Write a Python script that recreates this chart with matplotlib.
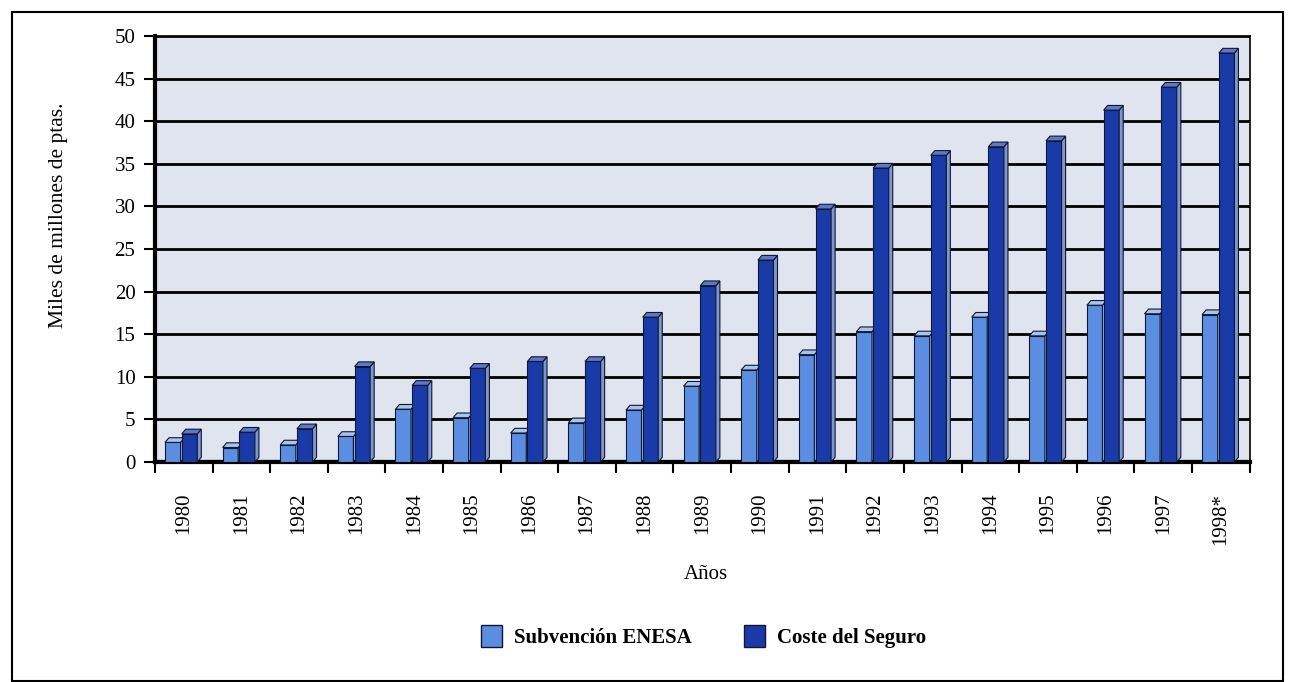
import numpy as np
import matplotlib.pyplot as plt
from matplotlib.patches import Polygon, Rectangle

years = ['1980', '1981', '1982', '1983', '1984', '1985', '1986', '1987', '1988', '1989',
         '1990', '1991', '1992', '1993', '1994', '1995', '1996', '1997', '1998*']
subvencion = [2.3, 1.7, 2.0, 3.0, 6.2, 5.2, 3.4, 4.6, 6.1, 8.9,
              10.8, 12.6, 15.3, 14.8, 17.0, 14.8, 18.4, 17.4, 17.3]
coste = [3.3, 3.5, 3.9, 11.2, 9.0, 11.0, 11.8, 11.8, 17.0, 20.7,
         23.7, 29.7, 34.5, 36.0, 37.0, 37.7, 41.3, 44.0, 48.0]
yticks = [0, 5, 10, 15, 20, 25, 30, 35, 40, 45, 50]

light = '#5b8ee0'
dark = '#1a3aa8'
serif = ['Liberation Serif', 'DejaVu Serif']
plt.rcParams['font.family'] = serif

fig = plt.figure(figsize=(12.91, 6.82), dpi=100)
ax = fig.add_axes([0.120, 0.3226, 0.848, 0.6246])
ax.set_facecolor('#dfe4ee')

x = np.arange(len(years))
w = 0.27
dx, dy = 0.07, 0.55


def bars3d(xs, vals, color, side, top):
    ax.bar(xs, vals, w, color=color, edgecolor='#101830', linewidth=0.8, zorder=3)
    for xi, v in zip(xs, vals):
        r = xi + w / 2
        l = xi - w / 2
        ax.add_patch(Polygon([(r, 0), (r + dx, dy), (r + dx, v + dy), (r, v)],
                             closed=True, facecolor=side, edgecolor='#101830',
                             linewidth=0.8, zorder=3))
        ax.add_patch(Polygon([(l, v), (l + dx, v + dy), (r + dx, v + dy), (r, v)],
                             closed=True, facecolor=top, edgecolor='#101830',
                             linewidth=0.8, zorder=3))


bars3d(x - 0.19, subvencion, light, '#8fb0ea', '#a9c2ee')
bars3d(x + 0.10, coste, dark, '#7f95d0', '#5d78c8')

for t in yticks[1:]:
    ax.axhline(t, color='black', linewidth=2, zorder=1)
ax.axhline(0, color='#1c2a1c', linewidth=3, zorder=2)

ax.set_xlim(-0.5, len(years) - 0.5)
ax.set_ylim(0, 50)
ax.set_yticks(yticks)
ax.set_yticklabels([str(t) for t in yticks], fontsize=15)
ax.set_xticks(np.arange(len(years) + 1) - 0.5)
ax.set_xticklabels([])
ax.set_xticks(x, minor=True)
ax.set_xticklabels(years, minor=True, rotation=90, fontsize=15)
ax.tick_params(axis='x', which='minor', length=0, pad=22)
ax.tick_params(axis='x', which='major', length=8, width=1.5, direction='out')
ax.tick_params(axis='y', length=8, width=1.5, direction='out', pad=6)

for s in ['left', 'bottom']:
    ax.spines[s].set_linewidth(3)
for s in ['right', 'top']:
    ax.spines[s].set_linewidth(1.2)

ax.set_ylabel('Miles de millones de ptas.', fontsize=15.5)
ax.yaxis.set_label_coords(-0.0793, 0.58)
ax.set_xlabel('Años', fontsize=15)
ax.xaxis.set_label_coords(0.503, -0.242)

h1 = Rectangle((0, 0), 1, 1, facecolor=light, edgecolor='#101830')
h2 = Rectangle((0, 0), 1, 1, facecolor=dark, edgecolor='#101830')
fig.legend([h1, h2], ['Subvención ENESA', 'Coste del Seguro'], loc='center',
           bbox_to_anchor=(0.545, 0.067), ncol=2, frameon=False,
           prop={'family': serif, 'weight': 'bold', 'size': 15},
           handlelength=1.0, handleheight=1.3, columnspacing=2.5, handletextpad=0.6)

fig.add_artist(Rectangle((0.009, 0.002), 0.985, 0.98, transform=fig.transFigure,
                         fill=False, edgecolor='black', linewidth=1.5))

fig.savefig('out.png', dpi=100)
